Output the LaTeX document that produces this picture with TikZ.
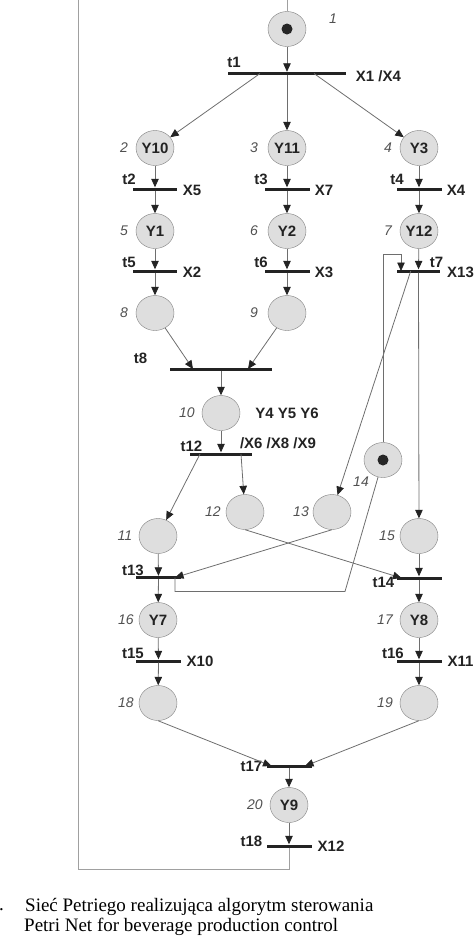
\documentclass[tikz,border=0pt]{standalone}
\usepackage{fontspec}
\setmainfont{Liberation Serif}
\newfontfamily\arialfont{Liberation Sans}
\usepackage{tikz}
\usetikzlibrary{shapes.geometric,arrows.meta,calc}
\definecolor{placefill}{RGB}{222,222,222}
\definecolor{placeline}{RGB}{130,130,130}
\definecolor{arcgray}{RGB}{110,110,110}
\definecolor{loopgray}{RGB}{160,160,160}
\definecolor{bardark}{RGB}{35,35,35}
\definecolor{numgray}{RGB}{80,80,80}
\tikzset{
  place/.style={ellipse, draw=placeline, fill=placefill, minimum width=38pt, minimum height=35pt, inner sep=0pt, font=\arialfont\bfseries\fontsize{15}{15}\selectfont, text=bardark},
  token/.style={circle, fill=black!85, minimum size=11pt, inner sep=0pt},
  tbar/.style={rectangle, fill=bardark, inner sep=0pt, minimum height=3pt},
  arcarrow/.style={draw=arcgray, line width=0.8pt, -{Triangle[length=8.5pt, width=7.5pt, color=bardark]}},
  plainline/.style={draw=arcgray, line width=0.8pt},
  loopline/.style={draw=loopgray, line width=1pt},
  tlabel/.style={font=\arialfont\bfseries\fontsize{15}{15}\selectfont, text=bardark, inner sep=0pt},
  num/.style={font=\arialfont\itshape\fontsize{14}{14}\selectfont, text=numgray, inner sep=0pt},
  captext/.style={font=\fontsize{19}{20}\selectfont, inner sep=0pt, anchor=base west},
}

\begin{document}
\begin{tikzpicture}[x=1pt,y=-1pt]
  \useasboundingbox (0,0) rectangle (474,938);

  % Places
  \node[place] (p1) at (287,29) {};
  \node[token] (k1) at (p1) {};
  \node[place] (p2) at (155,148) {Y10};
  \node[place] (p3) at (287,148) {Y11};
  \node[place] (p4) at (419,148) {Y3};
  \node[place] (p5) at (155,231) {Y1};
  \node[place] (p6) at (287,231) {Y2};
  \node[place] (p7) at (419,231) {Y12};
  \node[place] (p8) at (155,313) {};
  \node[place] (p9) at (287,313) {};
  \node[place] (p10) at (221,413) {};
  \node[place] (p11) at (158,536) {};
  \node[place] (p12) at (245,512) {};
  \node[place] (p13) at (332,512) {};
  \node[place] (p14) at (383,460) {};
  \node[token] (k14) at (p14) {};
  \node[place] (p15) at (419,536) {};
  \node[place] (p16) at (158,620) {Y7};
  \node[place] (p17) at (419,620) {Y8};
  \node[place] (p18) at (158,703) {};
  \node[place] (p19) at (419,703) {};
  \node[place] (p20) at (289,805) {Y9};

  % Place numbers
  \node[num] (n1) at (333,19) {1};
  \node[num] (n2) at (124,148) {2};
  \node[num] (n3) at (254,148) {3};
  \node[num] (n4) at (388,148) {4};
  \node[num] (n5) at (124,231) {5};
  \node[num] (n6) at (254,231) {6};
  \node[num] (n7) at (388,231) {7};
  \node[num] (n8) at (124,313) {8};
  \node[num] (n9) at (254,313) {9};
  \node[num] (n10) at (187,413) {10};
  \node[num] (n11) at (125,536) {11};
  \node[num] (n12) at (213,512) {12};
  \node[num] (n13) at (301,512) {13};
  \node[num] (n14) at (361,482) {14};
  \node[num] (n15) at (387,536) {15};
  \node[num] (n16) at (126,620) {16};
  \node[num] (n17) at (385,620) {17};
  \node[num] (n18) at (126,703) {18};
  \node[num] (n19) at (385,703) {19};
  \node[num] (n20) at (255,805) {20};

  % Transitions
  \node[tbar, minimum width=118pt] (t1) at (287,73.5) {};
  \node[tbar, minimum width=44pt] (t2) at (155,189) {};
  \node[tbar, minimum width=45pt] (t3) at (287,189) {};
  \node[tbar, minimum width=45pt] (t4) at (419,189) {};
  \node[tbar, minimum width=44pt] (t5) at (155,271) {};
  \node[tbar, minimum width=45pt] (t6) at (287,271) {};
  \node[tbar, minimum width=43pt] (t7) at (418.5,271) {};
  \node[tbar, minimum width=102pt] (t8) at (221,369) {};
  \node[tbar, minimum width=62pt] (t12) at (221,454) {};
  \node[tbar, minimum width=45pt] (t13) at (158.5,577.5) {};
  \node[tbar, minimum width=45pt] (t14) at (419,578) {};
  \node[tbar, minimum width=45pt] (t15) at (158.5,661) {};
  \node[tbar, minimum width=45pt] (t16) at (419,661) {};
  \node[tbar, minimum width=45pt] (t17) at (289,766) {};
  \node[tbar, minimum width=45pt] (t18) at (289,846) {};

  % Transition labels and conditions
  \node[tlabel] (l1) at (234,62) {t1};
  \node[tlabel] (x1) at (378.5,76) {X1 /X4};
  \node[tlabel] (l2) at (129,179) {t2};
  \node[tlabel] (x2) at (192,190) {X5};
  \node[tlabel] (l3) at (261,179) {t3};
  \node[tlabel] (x3) at (324,190) {X7};
  \node[tlabel] (l4) at (397,179) {t4};
  \node[tlabel] (x4) at (456,190) {X4};
  \node[tlabel] (l5) at (129,262) {t5};
  \node[tlabel] (x5) at (192,272) {X2};
  \node[tlabel] (l6) at (261,262) {t6};
  \node[tlabel] (x6) at (324,272) {X3};
  \node[tlabel] (l7) at (436.5,262) {t7};
  \node[tlabel] (x7) at (460.5,272.5) {X13};
  \node[tlabel] (l8) at (140.5,358) {t8};
  \node[tlabel] (y10) at (287,413) {Y4 Y5 Y6};
  \node[tlabel] (l12) at (191.5,446) {t12};
  \node[tlabel] (x12) at (278,443) {/X6 /X8 /X9};
  \node[tlabel] (l13) at (133,570) {t13};
  \node[tlabel] (l14) at (383.5,582) {t14};
  \node[tlabel] (l15) at (133,653) {t15};
  \node[tlabel] (x15) at (200,661) {X10};
  \node[tlabel] (l16) at (393,653) {t16};
  \node[tlabel] (x16) at (460.5,661) {X11};
  \node[tlabel] (l17) at (251.5,766) {t17};
  \node[tlabel] (l18) at (251.5,841) {t18};
  \node[tlabel] (x18) at (331,846) {X12};

  % Off-centre points on the bars
  \coordinate (t1l) at (260,73.5);
  \coordinate (t1r) at (314,73.5);
  \coordinate (t7in) at (401,271);
  \coordinate (t7out) at (410.7,271);
  \coordinate (t8l) at (193,369);
  \coordinate (t8r) at (248,369);
  \coordinate (t12l) at (200,454);
  \coordinate (t12r) at (241,454);
  \coordinate (t13in) at (175,577.5);
  \coordinate (t14in) at (401.5,578);
  \coordinate (t17l) at (271.5,766);
  \coordinate (t17r) at (305,766);

  % Arcs
  \draw[arcarrow] (p1) -- (t1);
  \draw[arcarrow] (t1l) -- (p2);
  \draw[arcarrow] (t1) -- (p3);
  \draw[arcarrow] (t1r) -- (p4);
  \draw[arcarrow] (p2) -- (t2);
  \draw[arcarrow] (p3) -- (t3);
  \draw[arcarrow] (p4) -- (t4);
  \draw[arcarrow] (t2) -- (p5);
  \draw[arcarrow] (t3) -- (p6);
  \draw[arcarrow] (t4) -- (p7);
  \draw[arcarrow] (p5) -- (t5);
  \draw[arcarrow] (p6) -- (t6);
  \draw[arcarrow] (p7) -- (t7);
  \draw[arcarrow] (t5) -- (p8);
  \draw[arcarrow] (t6) -- (p9);
  \draw[arcarrow] (p8) -- (t8l);
  \draw[arcarrow] (p9) -- (t8r);
  \draw[arcarrow] (t8) -- (p10);
  \draw[arcarrow] (p10) -- (t12);
  \draw[arcarrow] (t12l) -- (p11);
  \draw[arcarrow] (t12r) -- (p12);
  \draw[arcarrow] (p14) |- ($(t7in)+(0,-17)$) -- (t7in);
  \draw[arcarrow] (t7out) -- (p13);
  \draw[arcarrow] (t7) -- (p15);
  \draw[arcarrow] (p12.south) -- (t14in);
  \draw[arcarrow] (p13.south) -- (t13in);
  \draw[plainline] (p14) -- (345,591.5) -| (t13in);
  \draw[arcarrow] (p11) -- (t13);
  \draw[arcarrow] (p15) -- (t14);
  \draw[arcarrow] (t13) -- (p16);
  \draw[arcarrow] (t14) -- (p17);
  \draw[arcarrow] (p16) -- (t15);
  \draw[arcarrow] (p17) -- (t16);
  \draw[arcarrow] (t15) -- (p18);
  \draw[arcarrow] (t16) -- (p19);
  \draw[arcarrow] (p18.south) -- (t17l);
  \draw[arcarrow] (p19.south) -- (t17r);
  \draw[arcarrow] (t17) -- (p20);
  \draw[arcarrow] (p20) -- (t18);

  % Feedback loop back to place 1
  \draw[loopline] (t18) -- (289,869) -| (78,-20) -| (p1);

  % Caption
  \node[captext] (dot) at (-1,910) {.};
  \node[captext] (cap1) at (25,911.5) {Sieć Petriego realizująca algorytm sterowania};
  \node[captext] (cap2) at (24,931.5) {Petri Net for beverage production control};
\end{tikzpicture}
\end{document}
